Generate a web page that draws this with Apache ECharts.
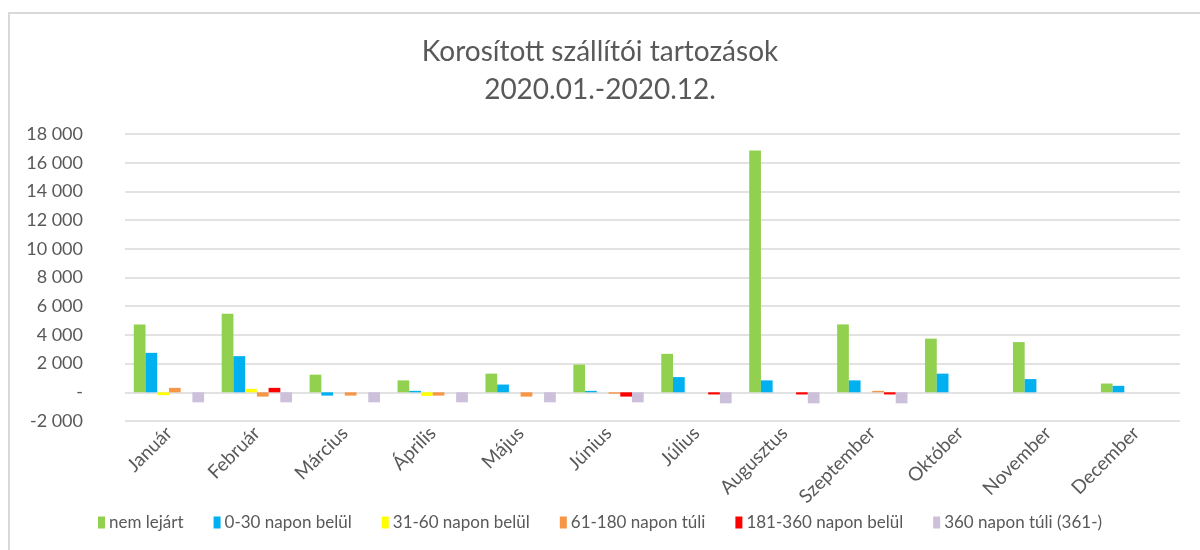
<!DOCTYPE html>
<html>
<head>
<meta charset="utf-8">
<script src="https://cdn.jsdelivr.net/npm/echarts@6/dist/echarts.min.js"></script>
<style>
  html, body { margin: 0; padding: 0; background: #fff; }
  #frame { position: absolute; left: 8px; top: 12px; width: 1250px; height: 600px; border: 2px solid #d9d9d9; box-sizing: border-box; }
  #chart { position: absolute; left: 0; top: 0; width: 1200px; height: 550px; }
</style>
</head>
<body>
<div id="frame"></div>
<div id="chart"></div>
<script>
// kategóriák és sorozatok
const months = ['Január', 'Február', 'Március', 'Április', 'Május', 'Június', 'Július', 'Augusztus', 'Szeptember', 'Október', 'November', 'December']
const seriesNames = ['nem lejárt', '0-30 napon belül', '31-60 napon belül', '61-180 napon túli', '181-360 napon belül', '360 napon túli (361-)']
const nemLejart = [4730, 5480, 1230, 830, 1300, 1930, 2680, 16850, 4730, 3740, 3500, 610]
const nap0_30 = [2750, 2520, -230, 100, 540, 100, 1060, 830, 830, 1300, 920, 450]
const nap31_60 = [-200, 240, 0, -250, 0, 0, 0, 0, 0, 0, 0, 0]
const nap61_180 = [310, -300, -230, -230, -300, -100, 0, 0, 100, 0, 0, 0]
const nap181_360 = [0, 310, 0, 0, 0, -300, -150, -150, -150, 0, 0, 0]
const nap360 = [-700, -700, -700, -700, -700, -700, -770, -770, -770, 0, 0, 0]
const colors = ['#92d050', '#00b0f0', '#ffff00', '#f79646', '#ff0000', '#ccc0da']

const allData = [nemLejart, nap0_30, nap31_60, nap61_180, nap181_360, nap360]
const font = 'Lato'
const textColor = '#595959'

const chart = echarts.init(document.getElementById('chart'))

const option = {
  animation: false,
  title: {
    text: 'Korosított szállítói tartozások\n2020.01.-2020.12.',
    left: 'center',
    top: 28,
    textStyle: {
      fontFamily: font,
      fontSize: 28,
      fontWeight: 'normal',
      color: textColor,
      lineHeight: 38
    }
  },
  legend: {
    bottom: 14,
    left: 'center',
    itemWidth: 7,
    itemHeight: 12,
    itemGap: 30,
    icon: 'rect',
    textStyle: {
      fontFamily: font,
      fontSize: 17,
      color: textColor,
      padding: [0, 0, 0, -1]
    },
    data: seriesNames
  },
  grid: {
    left: 125,
    right: 20,
    top: 134,
    bottom: 129
  },
  xAxis: {
    type: 'category',
    data: months,
    axisLine: { show: false, onZero: false },
    axisTick: { show: false },
    axisLabel: {
      rotate: 45,
      interval: 0,
      margin: 9,
      fontFamily: font,
      fontSize: 19,
      color: textColor
    }
  },
  yAxis: {
    type: 'value',
    min: -2000,
    max: 18000,
    interval: 2000,
    axisLine: { show: false },
    axisTick: { show: false },
    axisLabel: {
      margin: 42,
      fontFamily: font,
      fontSize: 18,
      color: textColor,
      formatter: (v) => v === 0 ? '-' : String(v).replace(/\B(?=(\d{3})+(?!\d))/g, ' ')
    },
    splitLine: {
      lineStyle: { color: '#d9d9d9', width: 1.5 }
    }
  },
  series: seriesNames.map((name, i) => ({
    name: name,
    type: 'bar',
    data: allData[i],
    barGap: '0%',
    barCategoryGap: '20%',
    itemStyle: { color: colors[i] }
  }))
}

chart.setOption(option)
</script>
</body>
</html>
